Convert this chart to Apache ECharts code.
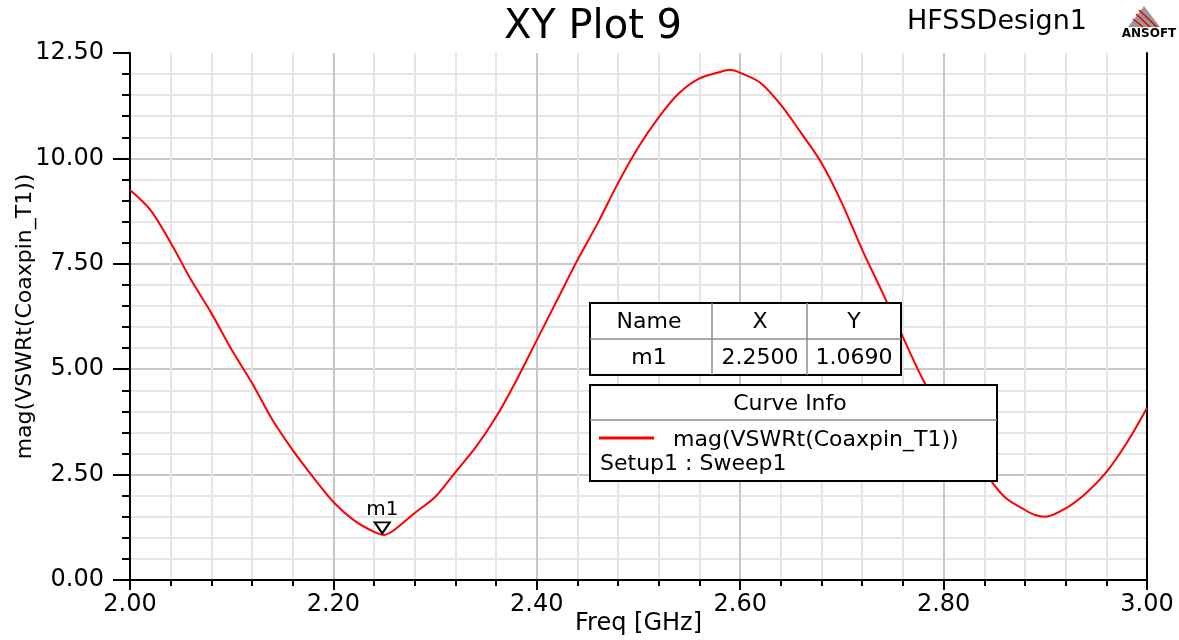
<!DOCTYPE html>
<html>
<head>
<meta charset="utf-8">
<script src="https://cdn.jsdelivr.net/npm/echarts@6/dist/echarts.min.js"></script>
<style>
  html, body { margin: 0; padding: 0; background: #fff; }
  #chart { width: 1179px; height: 640px; }
</style>
</head>
<body>
<div id="chart"></div>
<script>
// frequency sweep (GHz) and VSWR
const freq = [2.00, 2.02, 2.04, 2.06, 2.08, 2.10, 2.12, 2.14, 2.16, 2.18,
  2.20, 2.22, 2.24, 2.25, 2.26, 2.28, 2.30, 2.32, 2.34, 2.36,
  2.38, 2.40, 2.42, 2.44, 2.46, 2.48, 2.50, 2.52, 2.54, 2.56,
  2.58, 2.59, 2.60, 2.62, 2.64, 2.66, 2.68, 2.70, 2.72, 2.74,
  2.76, 2.78, 2.80, 2.82, 2.84, 2.86, 2.88, 2.89, 2.90, 2.92,
  2.94, 2.96, 2.98, 3.00]
const vswr = [9.25, 8.78, 8.00, 7.12, 6.33, 5.46, 4.67, 3.80, 3.08, 2.44,
  1.85, 1.42, 1.14, 1.069, 1.19, 1.59, 1.97, 2.56, 3.15, 3.87,
  4.74, 5.69, 6.64, 7.59, 8.47, 9.42, 10.27, 10.98, 11.55, 11.90,
  12.05, 12.10, 12.03, 11.79, 11.27, 10.60, 9.89, 8.94, 7.83, 6.81,
  5.76, 4.74, 3.96, 3.20, 2.56, 1.97, 1.66, 1.54, 1.50, 1.70,
  2.06, 2.56, 3.25, 4.08]
const marker = { name: 'm1', x: 2.25, y: 1.069 }
const tableHead = ['Name', 'X', 'Y']
const tableRow = ['m1', marker.x.toFixed(4), marker.y.toFixed(4)]
const curveName = 'mag(VSWRt(Coaxpin_T1))'
const curveSetup = 'Setup1 : Sweep1'

const FONT = 'DejaVu Sans'
const chart = echarts.init(document.getElementById('chart'))

const cellText = (x, y, text, size) => ({
  type: 'text', x: x, y: y, z: 110,
  style: { text: text, font: size + 'px "' + FONT + '"', fill: '#000', align: 'center', verticalAlign: 'middle' }
})
const box = (x, y, w, h) => ({
  type: 'rect', z: 100, shape: { x: x, y: y, width: w, height: h },
  style: { fill: '#fff', stroke: '#000', lineWidth: 2 }
})
const divider = (x1, y1, x2, y2) => ({
  type: 'line', z: 105, shape: { x1: x1, y1: y1, x2: x2, y2: y2 },
  style: { stroke: '#8c8c8c', lineWidth: 1.5 }
})

chart.setOption({
  animation: false,
  textStyle: { fontFamily: FONT },
  title: {
    text: 'XY Plot 9',
    left: 588,
    top: 3,
    textAlign: 'center',
    textStyle: { fontSize: 40, fontWeight: 'normal', color: '#000', fontFamily: FONT }
  },
  grid: { left: 130, right: 32, top: 53, bottom: 60, outerBoundsMode: 'none', containLabel: false },
  xAxis: [
    {
      type: 'value',
      min: 2,
      max: 3,
      interval: 0.2,
      name: 'Freq [GHz]',
      nameLocation: 'middle',
      nameGap: 32,
      nameMoveOverlap: false,
      nameTextStyle: { fontSize: 24, color: '#000', fontFamily: FONT },
      axisLine: { lineStyle: { color: '#000', width: 2 } },
      axisTick: { length: 10, lineStyle: { color: '#000', width: 2 } },
      minorTick: { show: true, splitNumber: 5, length: 6, lineStyle: { color: '#000', width: 2 } },
      axisLabel: { fontSize: 24, color: '#000', margin: 13, formatter: v => v.toFixed(2) },
      splitLine: { show: true, showMinLine: false, showMaxLine: false, lineStyle: { color: '#c8c8c8', width: 2 } },
      minorSplitLine: { show: true, lineStyle: { color: '#e6e6e6', width: 2 } }
    },
    {
      type: 'value', position: 'top', min: 2, max: 3,
      axisLine: { show: true, lineStyle: { color: '#000', width: 2 } },
      axisTick: { show: false }, axisLabel: { show: false }, splitLine: { show: false }
    }
  ],
  yAxis: [
    {
      type: 'value',
      min: 0,
      max: 12.5,
      interval: 2.5,
      name: 'mag(VSWRt(Coaxpin_T1))',
      nameLocation: 'middle',
      nameGap: 94,
      nameMoveOverlap: false,
      nameTextStyle: { fontSize: 22, color: '#000', fontFamily: FONT },
      axisLine: { show: true, lineStyle: { color: '#000', width: 2 } },
      axisTick: { show: true, length: 17, lineStyle: { color: '#000', width: 2 } },
      minorTick: { show: true, splitNumber: 5, length: 8, lineStyle: { color: '#000', width: 2 } },
      axisLabel: { fontSize: 24, color: '#000', margin: 26, formatter: v => v.toFixed(2) },
      splitLine: { show: true, showMinLine: false, showMaxLine: false, lineStyle: { color: '#c8c8c8', width: 2 } },
      minorSplitLine: { show: true, lineStyle: { color: '#e6e6e6', width: 2 } }
    },
    {
      type: 'value', position: 'right', min: 0, max: 12.5,
      axisLine: { show: true, lineStyle: { color: '#000', width: 2 } },
      axisTick: { show: false }, axisLabel: { show: false }, splitLine: { show: false }
    }
  ],
  series: [
    {
      name: curveName,
      type: 'line',
      data: freq.map((f, i) => [f, vswr[i]]),
      showSymbol: false,
      smooth: 0.3,
      lineStyle: { color: '#ff0000', width: 2 },
      z: 3
    },
    {
      type: 'scatter',
      data: [[marker.x, marker.y]],
      symbol: 'path://M0,0 L16,0 L8,12 Z',
      symbolSize: [15, 11],
      symbolOffset: [-2, -7],
      itemStyle: { color: 'rgba(255,255,255,0)', borderColor: '#000', borderWidth: 2, opacity: 1 },
      label: {
        show: true,
        position: 'top',
        distance: 2,
        formatter: marker.name,
        fontSize: 20,
        color: '#000',
        fontFamily: FONT
      },
      z: 4
    }
  ],
  graphic: [
    // design name and logo
    { type: 'text', x: 997, y: 22, style: { text: 'HFSSDesign1', font: '27px "' + FONT + '"', fill: '#000', align: 'center', verticalAlign: 'middle' } },
    { type: 'polygon', shape: { points: [[1144, 6], [1128, 27], [1160, 27]] }, style: { fill: '#9a9a9a' } },
    { type: 'line', shape: { x1: 1136, y1: 14, x2: 1150, y2: 27 }, style: { stroke: '#e00000', lineWidth: 1.5 } },
    { type: 'line', shape: { x1: 1133, y1: 19, x2: 1143, y2: 27 }, style: { stroke: '#e00000', lineWidth: 1.5 } },
    { type: 'line', shape: { x1: 1139, y1: 10, x2: 1157, y2: 27 }, style: { stroke: '#e00000', lineWidth: 1.5 } },
    { type: 'text', x: 1149, y: 34, style: { text: 'ANSOFT', font: 'bold 12px "' + FONT + '"', fill: '#000', align: 'center', verticalAlign: 'middle' } },

    // marker table
    box(590, 303, 311, 72),
    divider(590, 339, 901, 339),
    divider(712, 303, 712, 375),
    divider(807, 303, 807, 375),
    cellText(649, 322, tableHead[0], 22),
    cellText(760, 322, tableHead[1], 22),
    cellText(854, 322, tableHead[2], 22),
    cellText(649, 358, tableRow[0], 22),
    cellText(760, 358, tableRow[1], 22),
    cellText(854, 358, tableRow[2], 22),

    // curve info legend
    box(590, 385, 407, 96),
    divider(590, 420, 997, 420),
    cellText(790, 404, 'Curve Info', 22),
    { type: 'line', z: 110, shape: { x1: 599, y1: 438, x2: 654, y2: 438 }, style: { stroke: '#ff0000', lineWidth: 3 } },
    { type: 'text', x: 673, y: 440, z: 110, style: { text: curveName, font: '22px "' + FONT + '"', fill: '#000', align: 'left', verticalAlign: 'middle' } },
    { type: 'text', x: 600, y: 464, z: 110, style: { text: curveSetup, font: '22px "' + FONT + '"', fill: '#000', align: 'left', verticalAlign: 'middle' } }
  ]
})
</script>
</body>
</html>
